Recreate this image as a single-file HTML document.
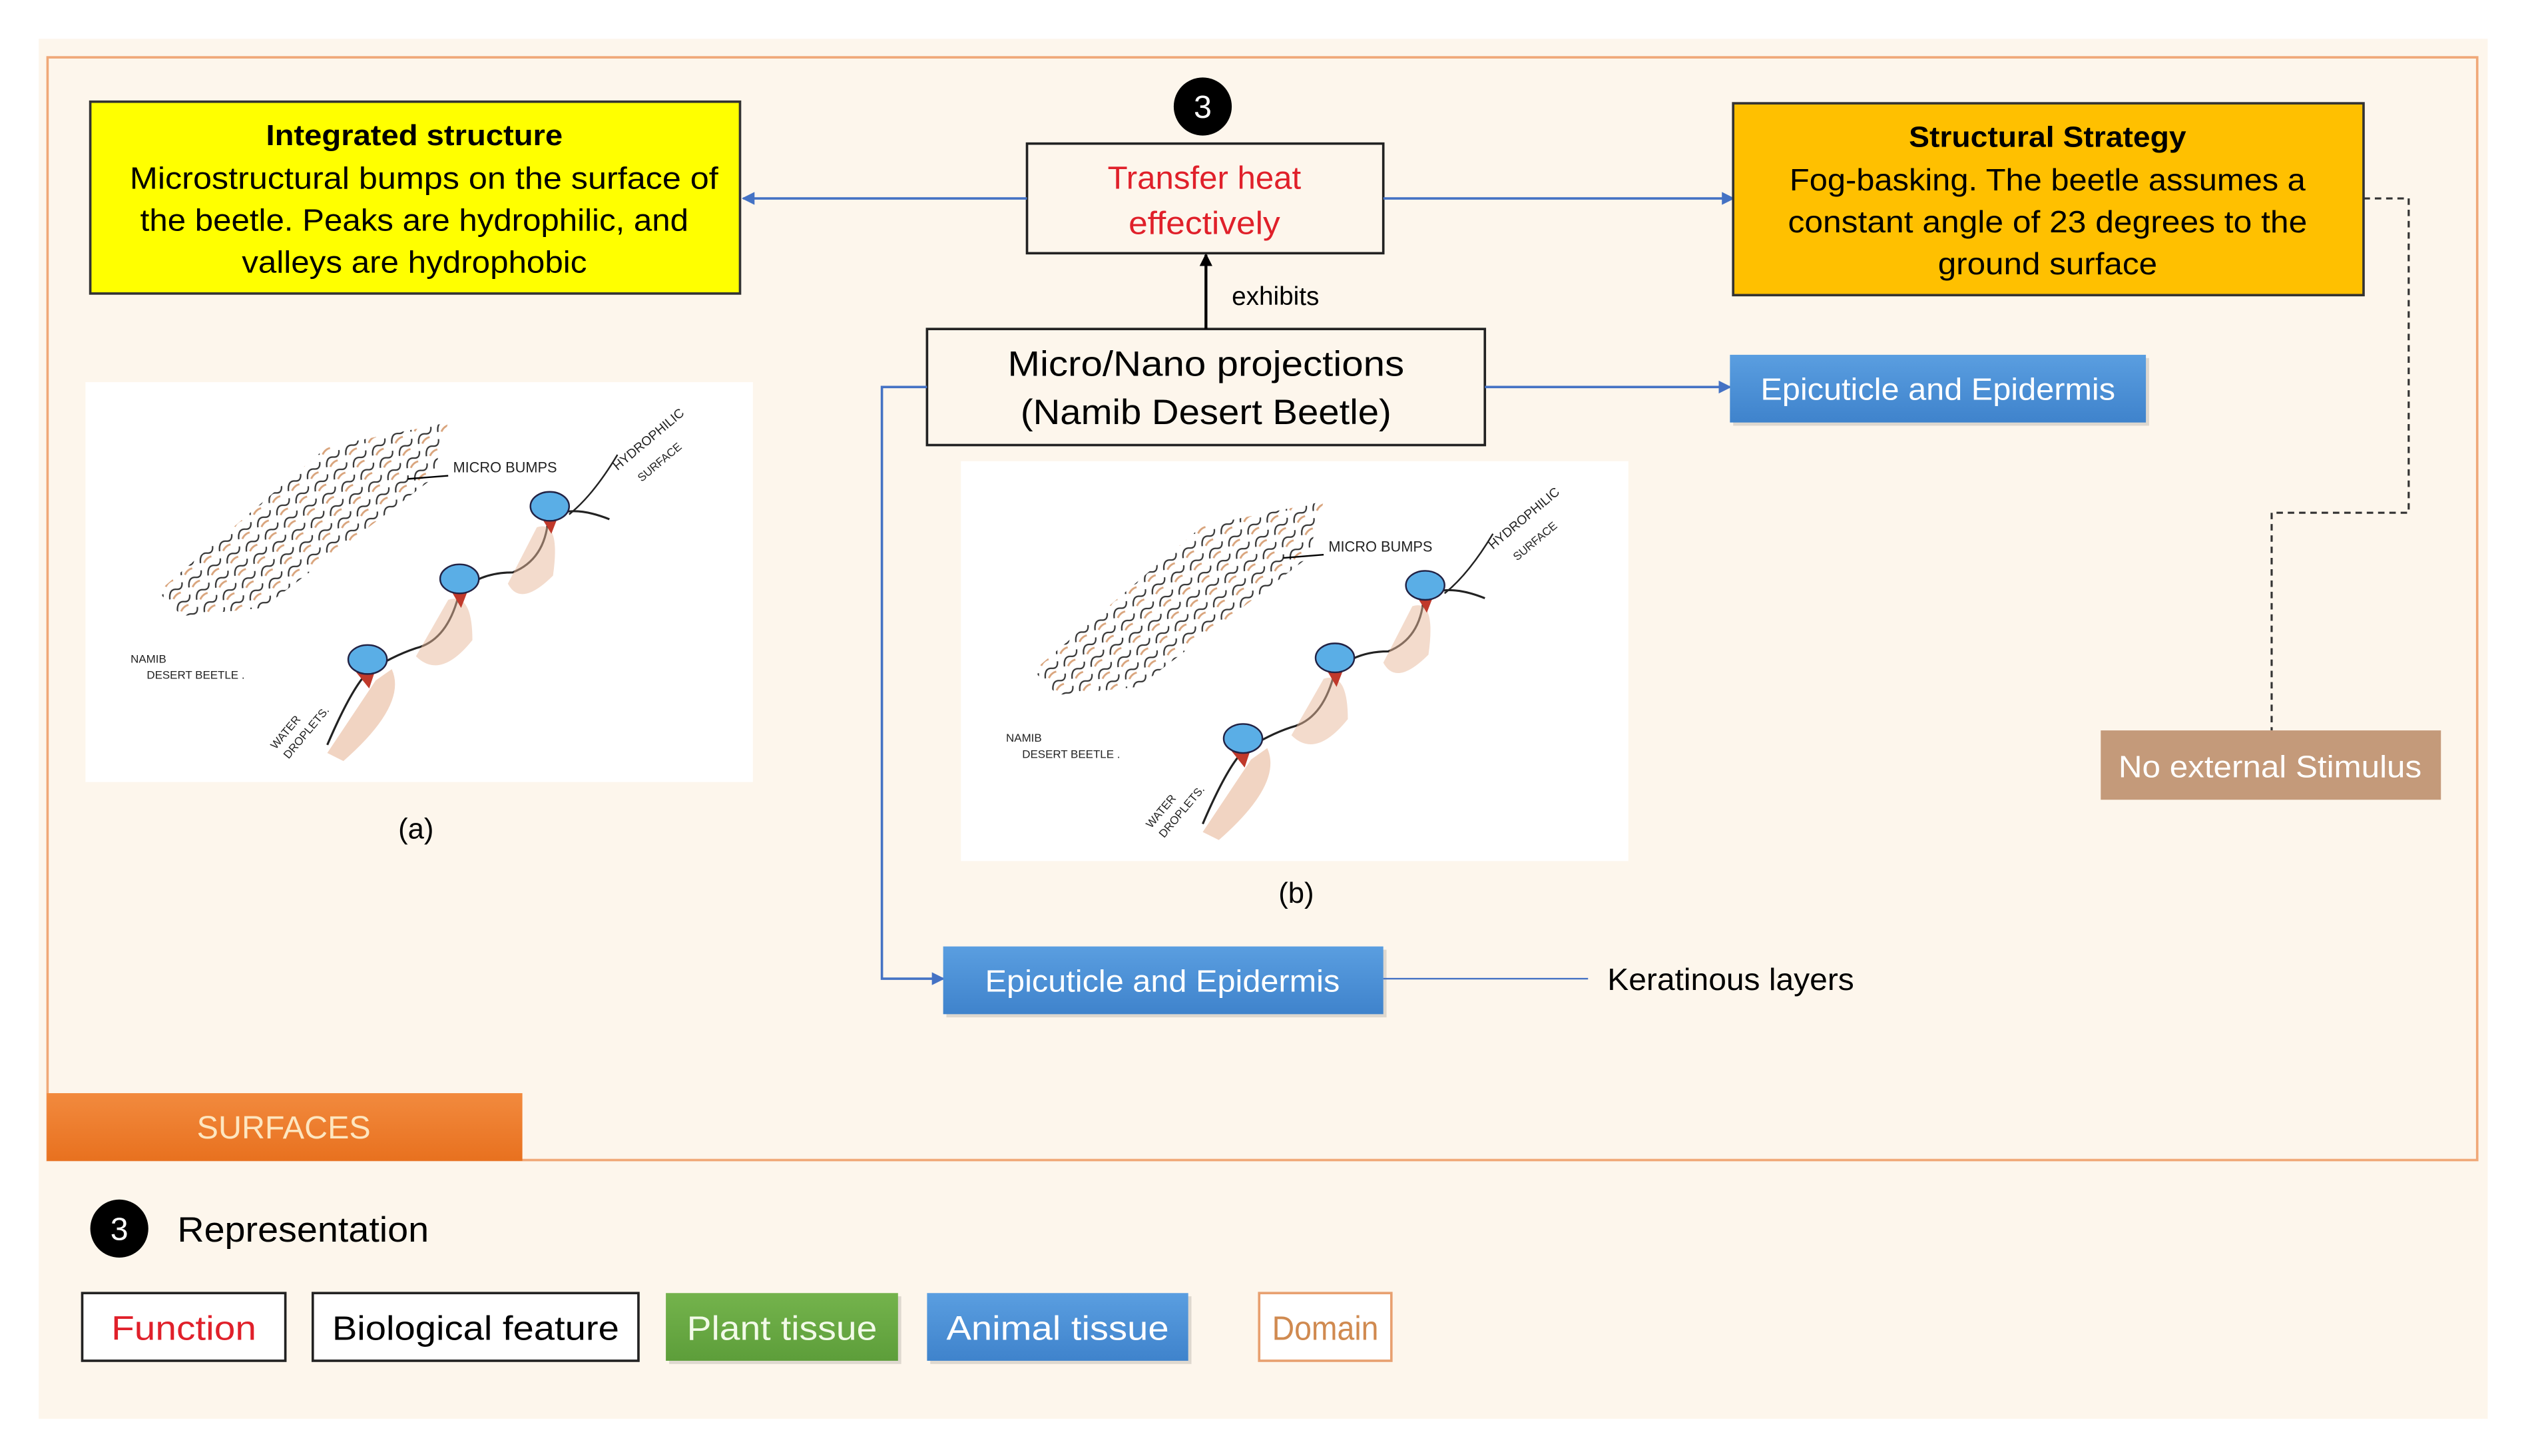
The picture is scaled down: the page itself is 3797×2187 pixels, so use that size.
<!DOCTYPE html>
<html><head><meta charset="utf-8"><style>
html,body{margin:0;padding:0;background:#fff;}
svg{display:block;}
text{font-family:"Liberation Sans",sans-serif;}
</style></head><body>
<svg width="3797" height="2187" viewBox="0 0 1568 903" xmlns="http://www.w3.org/2000/svg">
<defs>
<marker id="ab" markerWidth="8" markerHeight="8" refX="7" refY="4" orient="auto" markerUnits="userSpaceOnUse"><path d="M0,0 L8,4 L0,8 z" fill="#4472c4"/></marker>
<marker id="ak" markerWidth="8" markerHeight="8" refX="7" refY="4" orient="auto" markerUnits="userSpaceOnUse"><path d="M0,0 L8,4 L0,8 z" fill="#000"/></marker>
<linearGradient id="bl" x1="0" y1="0" x2="0" y2="1"><stop offset="0" stop-color="#5a9ee0"/><stop offset="1" stop-color="#3f83cc"/></linearGradient>
<linearGradient id="gr" x1="0" y1="0" x2="0" y2="1"><stop offset="0" stop-color="#74b34c"/><stop offset="1" stop-color="#5d9e3a"/></linearGradient>
<linearGradient id="or" x1="0" y1="0" x2="0" y2="1"><stop offset="0" stop-color="#f28a3e"/><stop offset="1" stop-color="#e8711f"/></linearGradient>
<pattern id="bump" width="14" height="9" patternUnits="userSpaceOnUse" patternTransform="rotate(-32)">
<path d="M1,7 Q4,1 8,4 Q11,6 13,2" fill="none" stroke="#333" stroke-width="0.9"/>
<path d="M3,8 Q6,6 9,7" fill="none" stroke="#d9a47c" stroke-width="1.2"/>
</pattern>
<g id="sk">
<rect x="0" y="0" width="414" height="248" fill="#fff"/>
<polygon points="45,130 150,40 225,25 215,60 110,140 60,145" fill="url(#bump)"/>
<path d="M200,60 L225,58" stroke="#000" stroke-width="1"/>
<path d="M150,225 Q165,190 175,180 Q190,170 205,165 Q225,160 232,130 Q245,118 265,118 Q285,110 287,85 Q300,75 325,85" fill="none" stroke="#222" stroke-width="1.3"/>
<path d="M150,230 Q170,200 180,185 L190,178 Q200,200 160,235z" fill="#e8b89a" opacity="0.6"/>
<path d="M225,135 Q240,130 240,160 Q220,185 205,170z" fill="#e8b89a" opacity="0.5"/>
<path d="M280,90 Q295,85 290,120 Q270,140 262,125z" fill="#e8b89a" opacity="0.5"/>
<path d="M168,180 L182,172 L176,190z" fill="#c0392b"/>
<path d="M226,128 L240,122 L233,140z" fill="#c0392b"/>
<path d="M281,81 L296,76 L289,94z" fill="#c0392b"/>
<ellipse cx="175" cy="172" rx="12" ry="9" fill="#5aaee6" stroke="#224" stroke-width="1"/>
<ellipse cx="232" cy="122" rx="12" ry="9" fill="#5aaee6" stroke="#224" stroke-width="1"/>
<ellipse cx="288" cy="77" rx="12" ry="9" fill="#5aaee6" stroke="#224" stroke-width="1"/>
<path d="M300,82 Q315,70 330,45" fill="none" stroke="#222" stroke-width="1"/>
<text x="228" y="56" font-size="9" fill="#222">MICRO BUMPS</text>
<text x="330" y="55" font-size="8" fill="#222" transform="rotate(-40 330 55)">HYDROPHILIC</text>
<text x="345" y="62" font-size="7" fill="#222" transform="rotate(-40 345 62)">SURFACE</text>
<text x="28" y="174" font-size="7" fill="#222">NAMIB</text>
<text x="38" y="184" font-size="7" fill="#222">DESERT BEETLE .</text>
<text x="118" y="228" font-size="7" fill="#222" transform="rotate(-50 118 228)">WATER</text>
<text x="126" y="234" font-size="7" fill="#222" transform="rotate(-50 126 234)">DROPLETS.</text>
</g>
</defs>
<rect x="0" y="0" width="1568" height="903" fill="#fff"/>
<rect x="24" y="24" width="1519" height="856" fill="#fdf6ec"/>
<rect x="29.5" y="35.5" width="1507" height="684" fill="none" stroke="#f0a878" stroke-width="1.5"/>

<!-- yellow -->
<rect x="56" y="63" width="403" height="119" fill="#ffff00" stroke="#333" stroke-width="1.5"/>
<text x="257" y="90" font-size="18" font-weight="bold" text-anchor="middle" textLength="184" lengthAdjust="spacingAndGlyphs">Integrated structure</text>
<text x="263" y="117" font-size="19" text-anchor="middle" textLength="365" lengthAdjust="spacingAndGlyphs">Microstructural bumps on the surface of</text>
<text x="257" y="143" font-size="19" text-anchor="middle" textLength="340" lengthAdjust="spacingAndGlyphs">the beetle. Peaks are hydrophilic, and</text>
<text x="257" y="169" font-size="19" text-anchor="middle" textLength="214" lengthAdjust="spacingAndGlyphs">valleys are hydrophobic</text>

<circle cx="746" cy="66" r="18" fill="#000"/>
<text x="746" y="73" font-size="20" fill="#fff" text-anchor="middle">3</text>

<rect x="637" y="89" width="221" height="68" fill="#fdf6ec" stroke="#222" stroke-width="1.5"/>
<text x="747" y="117" font-size="20" fill="#e0202a" text-anchor="middle" textLength="120" lengthAdjust="spacingAndGlyphs">Transfer heat</text>
<text x="747" y="145" font-size="20" fill="#e0202a" text-anchor="middle" textLength="94" lengthAdjust="spacingAndGlyphs">effectively</text>

<line x1="637" y1="123" x2="461" y2="123" stroke="#4472c4" stroke-width="1.5" marker-end="url(#ab)"/>
<line x1="858" y1="123" x2="1075" y2="123" stroke="#4472c4" stroke-width="1.5" marker-end="url(#ab)"/>

<rect x="1075" y="64" width="391" height="119" fill="#ffc000" stroke="#333" stroke-width="1.5"/>
<text x="1270" y="91" font-size="18" font-weight="bold" text-anchor="middle" textLength="172" lengthAdjust="spacingAndGlyphs">Structural Strategy</text>
<text x="1270" y="118" font-size="19" text-anchor="middle" textLength="320" lengthAdjust="spacingAndGlyphs">Fog-basking. The beetle assumes a</text>
<text x="1270" y="144" font-size="19" text-anchor="middle" textLength="322" lengthAdjust="spacingAndGlyphs">constant angle of 23 degrees to the</text>
<text x="1270" y="170" font-size="19" text-anchor="middle" textLength="136" lengthAdjust="spacingAndGlyphs">ground surface</text>

<polyline points="1466,123 1494,123 1494,318 1409,318 1409,453" fill="none" stroke="#333" stroke-width="1.3" stroke-dasharray="4,3"/>
<rect x="1303" y="453" width="211" height="43" fill="#c49a7a"/>
<text x="1408" y="482" font-size="19" fill="#fff" text-anchor="middle" textLength="188" lengthAdjust="spacingAndGlyphs">No external Stimulus</text>

<rect x="575" y="204" width="346" height="72" fill="#fdf6ec" stroke="#222" stroke-width="1.5"/>
<text x="748" y="233" font-size="22" text-anchor="middle" textLength="246" lengthAdjust="spacingAndGlyphs">Micro/Nano projections</text>
<text x="748" y="263" font-size="22" text-anchor="middle" textLength="230" lengthAdjust="spacingAndGlyphs">(Namib Desert Beetle)</text>

<line x1="748" y1="204" x2="748" y2="158" stroke="#000" stroke-width="1.8" marker-end="url(#ak)"/>
<text x="764" y="189" font-size="16">exhibits</text>

<line x1="921" y1="240" x2="1073" y2="240" stroke="#4472c4" stroke-width="1.5" marker-end="url(#ab)"/>
<rect x="1075" y="222" width="258" height="42" fill="#000" opacity="0.12"/>
<rect x="1073" y="220" width="258" height="42" fill="url(#bl)"/>
<text x="1202" y="248" font-size="19" fill="#fff" text-anchor="middle" textLength="220" lengthAdjust="spacingAndGlyphs">Epicuticle and Epidermis</text>

<polyline points="575,240 547,240 547,607 585,607" fill="none" stroke="#4472c4" stroke-width="1.5" marker-end="url(#ab)"/>
<rect x="587" y="589" width="273" height="42" fill="#000" opacity="0.12"/>
<rect x="585" y="587" width="273" height="42" fill="url(#bl)"/>
<text x="721" y="615" font-size="19" fill="#fff" text-anchor="middle" textLength="220" lengthAdjust="spacingAndGlyphs">Epicuticle and Epidermis</text>
<line x1="858" y1="607" x2="985" y2="607" stroke="#4472c4" stroke-width="1"/>
<text x="997" y="614" font-size="19" textLength="153" lengthAdjust="spacingAndGlyphs">Keratinous layers</text>

<use href="#sk" x="53" y="237"/>
<use href="#sk" x="596" y="286"/>
<text x="258" y="520" font-size="18" text-anchor="middle">(a)</text>
<text x="804" y="560" font-size="18" text-anchor="middle">(b)</text>

<rect x="29" y="678" width="295" height="42" fill="url(#or)"/>
<text x="176" y="706" font-size="20" fill="#fde6c0" text-anchor="middle">SURFACES</text>

<circle cx="74" cy="762" r="18" fill="#000"/>
<text x="74" y="769" font-size="20" fill="#fff" text-anchor="middle">3</text>
<text x="110" y="770" font-size="22" textLength="156" lengthAdjust="spacingAndGlyphs">Representation</text>

<rect x="51" y="802" width="126" height="42" fill="#fff" stroke="#222" stroke-width="1.5"/>
<text x="114" y="831" font-size="21" fill="#e0202a" text-anchor="middle" textLength="90" lengthAdjust="spacingAndGlyphs">Function</text>
<rect x="194" y="802" width="202" height="42" fill="#fff" stroke="#222" stroke-width="1.5"/>
<text x="295" y="831" font-size="21" text-anchor="middle" textLength="178" lengthAdjust="spacingAndGlyphs">Biological feature</text>
<rect x="415" y="804" width="144" height="42" fill="#000" opacity="0.12"/>
<rect x="413" y="802" width="144" height="42" fill="url(#gr)"/>
<text x="485" y="831" font-size="21" fill="#f2fae8" text-anchor="middle" textLength="118" lengthAdjust="spacingAndGlyphs">Plant tissue</text>
<rect x="577" y="804" width="162" height="42" fill="#000" opacity="0.12"/>
<rect x="575" y="802" width="162" height="42" fill="url(#bl)"/>
<text x="656" y="831" font-size="21" fill="#fff" text-anchor="middle" textLength="138" lengthAdjust="spacingAndGlyphs">Animal tissue</text>
<rect x="781" y="802" width="82" height="42" fill="#fff" stroke="#e8a070" stroke-width="1.5"/>
<text x="822" y="831" font-size="21" fill="#d08a50" text-anchor="middle" textLength="66" lengthAdjust="spacingAndGlyphs">Domain</text>
</svg>
</body></html>
